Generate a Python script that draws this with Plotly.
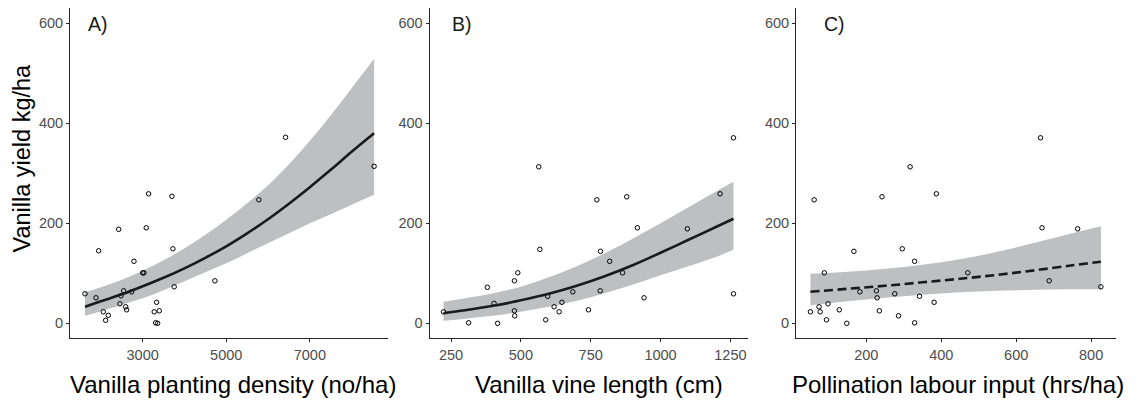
import plotly.graph_objects as go

# ---------------- data ----------------
# Panel A: planting density (no/ha) vs yield (kg/ha)
A_x = [1621, 1884, 1948, 2058, 2115, 2178, 2426, 2457, 2481, 2546, 2594, 2617, 2737, 2792, 3000,
       3031, 3086, 3143, 3277, 3335, 3311, 3359, 3397, 3700, 3724, 3755, 4728, 5780, 6419, 8537]
A_y = [59, 51, 145, 23, 6, 16, 188, 39, 55, 65, 33, 27, 63, 124, 101,
       101, 191, 259, 23, 42, 1, 0, 25, 254, 149, 73, 85, 247, 372, 314]
A_fit_x = [1621, 2000, 2500, 3000, 3500, 4000, 4500, 5000, 5500, 6000, 6500, 7000, 7500, 8000, 8537]
A_fit = [33, 44, 58, 74, 91, 110, 131, 154, 180, 208, 239, 272, 307, 343, 380]
A_lo = [15, 24, 37, 50, 66, 84, 102, 120, 140, 160, 180, 200, 218, 237, 257]
A_hi = [62, 72, 87, 105, 126, 150, 177, 207, 240, 276, 318, 365, 416, 470, 529]

# Panel B: vine length (cm) vs yield
B_x = [223, 313, 380, 404, 417, 477, 477, 478, 489, 564, 568, 589, 596, 619, 637,
       647, 686, 742, 772, 784, 785, 818, 864, 879, 917, 941, 1096, 1213, 1261, 1261]
B_y = [23, 1, 72, 40, 0, 85, 25, 15, 101, 313, 148, 7, 54, 33, 23,
       42, 63, 27, 247, 65, 144, 124, 101, 253, 191, 51, 189, 259, 371, 59]
B_fit_x = [223, 300, 400, 500, 600, 700, 800, 900, 1000, 1100, 1200, 1261]
B_fit = [20, 26, 35, 46, 59, 75, 94, 116, 141, 167, 193, 209]
B_lo = [5, 9, 15, 23, 33, 45, 60, 77, 96, 114, 133, 147]
B_hi = [43, 50, 60, 73, 92, 114, 140, 169, 200, 232, 264, 283]

# Panel C: pollination labour (hrs/ha) vs yield
C_x = [51, 61, 74, 77, 88, 94, 98, 128, 148, 167, 183, 227, 229, 235, 242,
       276, 286, 296, 317, 329, 329, 342, 381, 387, 471, 665, 669, 688, 764, 826]
C_y = [23, 247, 33, 23, 101, 7, 39, 27, 0, 144, 63, 65, 51, 25, 253,
       59, 15, 149, 313, 124, 1, 54, 42, 259, 101, 371, 191, 85, 189, 73]
C_fit_x = [51, 150, 250, 350, 450, 550, 650, 750, 826]
C_fit = [63, 69, 75, 82, 89, 97, 106, 116, 123]
C_lo = [36, 44, 51, 57, 62, 65, 67, 68, 68]
C_hi = [99, 103, 109, 117, 128, 143, 161, 180, 194]

X_TITLES = ["Vanilla planting density (no/ha)", "Vanilla vine length (cm)",
            "Pollination labour input (hrs/ha)"]
Y_TITLE = "Vanilla yield kg/ha"
PANEL_LABELS = ["A)", "B)", "C)"]
X_TICKS = [[3000, 5000, 7000], [250, 500, 750, 1000, 1250], [200, 400, 600, 800]]
Y_TICKS = [0, 200, 400, 600]

# ---------------- styling ----------------
W, H = 1137, 407
BAND = "#bebfc1"
LINE = "#1a1a1a"
AXIS = "#262626"
TICKTXT = "#4d4d4d"
FONT = "Liberation Sans, Arial, sans-serif"

panels = [
    dict(x=A_x, y=A_y, fx=A_fit_x, f=A_fit, lo=A_lo, hi=A_hi, dash="solid",
         xpx=(70, 388), xr=[1262, 8870], lab_off=16, title_c=233),
    dict(x=B_x, y=B_y, fx=B_fit_x, f=B_fit, lo=B_lo, hi=B_hi, dash="solid",
         xpx=(429.5, 748), xr=[173, 1313], lab_off=20.5, title_c=599),
    dict(x=C_x, y=C_y, fx=C_fit_x, f=C_fit, lo=C_lo, hi=C_hi, dash="9px,4.5px",
         xpx=(796, 1115.5), xr=[12.5, 865], lab_off=25.5, title_c=958),
]

y_top_px, y_bot_px = 8.0, 338.3
ydom = [1 - y_bot_px / H, 1 - y_top_px / H]
yrange = [-30, 630.6]

fig = go.Figure()
layout = dict(
    width=W, height=H, margin=dict(l=0, r=0, t=0, b=0),
    paper_bgcolor="white", plot_bgcolor="white", showlegend=False,
    font=dict(family=FONT, color="black"),
)
annotations = []

for i, p in enumerate(panels):
    sfx = "" if i == 0 else str(i + 1)
    xa, ya = "x" + sfx, "y" + sfx
    # confidence band
    fig.add_trace(go.Scatter(x=p["fx"], y=p["lo"], mode="lines", line=dict(width=0, shape="spline"),
                             xaxis=xa, yaxis=ya, hoverinfo="skip"))
    fig.add_trace(go.Scatter(x=p["fx"], y=p["hi"], mode="lines", line=dict(width=0, shape="spline"),
                             fill="tonexty", fillcolor=BAND, xaxis=xa, yaxis=ya, hoverinfo="skip"))
    # points
    fig.add_trace(go.Scatter(x=p["x"], y=p["y"], mode="markers",
                             marker=dict(symbol="circle-open", size=4.5, color="black",
                                         line=dict(width=1, color="black")),
                             xaxis=xa, yaxis=ya))
    # fitted line
    fig.add_trace(go.Scatter(x=p["fx"], y=p["f"], mode="lines",
                             line=dict(color=LINE, width=2.6, dash=p["dash"], shape="spline"),
                             xaxis=xa, yaxis=ya))

    x0, x1 = p["xpx"]
    common = dict(showline=True, linecolor=AXIS, linewidth=1, ticks="outside", ticklen=3,
                  tickwidth=1, tickcolor=AXIS, showgrid=False, zeroline=False,
                  tickfont=dict(family=FONT, size=14.5, color=TICKTXT))
    layout["xaxis" + sfx] = dict(domain=[x0 / W, x1 / W], range=p["xr"], anchor=ya,
                                 tickvals=X_TICKS[i], **common)
    layout["yaxis" + sfx] = dict(domain=ydom, range=yrange, anchor=xa,
                                 tickvals=Y_TICKS, **common)

    annotations.append(dict(text=PANEL_LABELS[i], xref=xa + " domain", yref=ya + " domain",
                            x=p["lab_off"] / (x1 - x0), y=(y_bot_px - 23.7) / (y_bot_px - y_top_px),
                            xanchor="left", yanchor="middle", showarrow=False,
                            font=dict(family=FONT, size=19.5, color="#1a1a1a")))
    annotations.append(dict(text=X_TITLES[i], xref="paper", yref="paper",
                            x=p["title_c"] / W, y=1 - 384 / H, xanchor="center", yanchor="middle",
                            showarrow=False, font=dict(family=FONT, size=24, color="black")))

annotations.append(dict(text=Y_TITLE, xref="paper", yref="paper", x=21.5 / W, y=1 - 158 / H,
                        xanchor="center", yanchor="middle", textangle=-90, showarrow=False,
                        font=dict(family=FONT, size=23.5, color="black")))
layout["annotations"] = annotations
fig.update_layout(**layout)
fig.write_html("out.html")
